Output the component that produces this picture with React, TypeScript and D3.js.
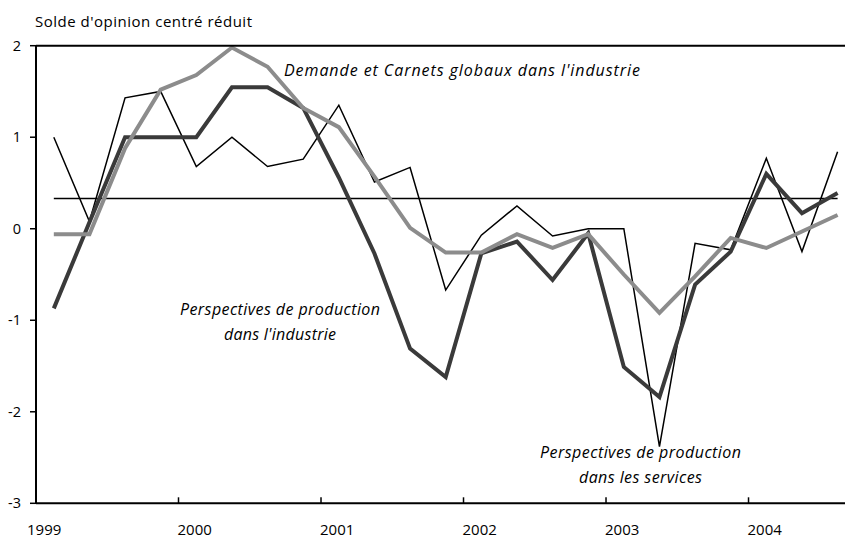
import React from "react";
import * as d3 from "d3";

const quarters = [
  "1999T1", "1999T2", "1999T3", "1999T4",
  "2000T1", "2000T2", "2000T3", "2000T4",
  "2001T1", "2001T2", "2001T3", "2001T4",
  "2002T1", "2002T2", "2002T3", "2002T4",
  "2003T1", "2003T2", "2003T3", "2003T4",
  "2004T1", "2004T2", "2004T3",
];

// Perspectives de production dans les services (thin black)
const services = [1.0, 0.08, 1.43, 1.5, 0.68, 1.0, 0.68, 0.76, 1.35, 0.51, 0.67, -0.67, -0.07, 0.25, -0.08, 0.0, 0.0, -2.38, -0.16, -0.23, 0.77, -0.25, 0.84];
// Perspectives de production dans l'industrie (dark thick)
const prodIndustrie = [-0.87, 0.07, 1.0, 1.0, 1.0, 1.545, 1.545, 1.32, 0.56, -0.27, -1.31, -1.62, -0.27, -0.14, -0.56, -0.05, -1.51, -1.84, -0.61, -0.25, 0.6, 0.17, 0.39];
// Demande et Carnets globaux dans l'industrie (grey thick)
const demande = [-0.06, -0.06, 0.88, 1.52, 1.68, 1.98, 1.77, 1.32, 1.11, 0.57, 0.01, -0.26, -0.26, -0.06, -0.21, -0.06, -0.5, -0.92, -0.52, -0.1, -0.21, -0.03, 0.15];
// Moyenne (horizontal reference line)
const meanValue = [0.33];

const yTicks = [2, 1, 0, -1, -2, -3];
const xTicks = [1999, 2000, 2001, 2002, 2003, 2004];

const FONT = "'Open Sans', sans-serif";

function qPos(q: string): number {
  const y = +q.slice(0, 4);
  const n = +q.slice(5);
  return y + (n - 0.5) / 4;
}

export default function App() {
  const W = 847, H = 538;
  const left = 36, right = 845, top = 45.7, bottom = 503.3;
  const x = d3.scaleLinear().domain([1999, 2004.677]).range([left, right]);
  const y = d3.scaleLinear().domain([-3, 2]).range([bottom, top]);

  const line = d3
    .line<number>()
    .x((_, i) => x(qPos(quarters[i])))
    .y((d) => y(d))
    .curve(d3.curveLinear);

  const meanLine = d3
    .line<number>()
    .x((d) => x(d))
    .y(() => y(meanValue[0]));
  const meanPath = meanLine([qPos(quarters[0]), qPos(quarters[quarters.length - 1])]);

  return (
    <svg width={W} height={H} style={{ display: "block", position: "absolute", left: 0, top: 0, background: "#fff" }}>
      <rect x={0} y={0} width={W} height={H} fill="#fff" />
      <text x={35} y={26.5} fontFamily={FONT} fontSize={15} fill="#000" textLength={217} lengthAdjust="spacing">
        Solde d'opinion centré réduit
      </text>

      {/* y tick labels */}
      {yTicks.map((t) => (
        <g key={"y" + t}>
          <line x1={left - 6} x2={left} y1={y(t)} y2={y(t)} stroke="#000" strokeWidth={1.5} />
          <text x={21} y={y(t)} dy="0.35em" textAnchor="end" fontFamily={FONT} fontSize={14.5} fill="#000">
            {t}
          </text>
        </g>
      ))}

      {/* x ticks */}
      {xTicks.map((t, i) => (
        <g key={"x" + t}>
          {i > 0 && <line x1={x(t)} x2={x(t)} y1={bottom} y2={bottom - 6} stroke="#000" strokeWidth={1.5} />}
          <text x={i === 0 ? 27 : x(t) - 1} y={535} textAnchor="start" fontFamily={FONT} fontSize={15} fill="#000">
            {t}
          </text>
        </g>
      ))}

      {/* series */}
      <path d={meanPath || ""} fill="none" stroke="#000" strokeWidth={1.5} />
      <path d={line(services) || ""} fill="none" stroke="#000" strokeWidth={1.5} strokeLinejoin="miter" />
      <path d={line(prodIndustrie) || ""} fill="none" stroke="#3a3a3a" strokeWidth={4} strokeLinejoin="miter" />
      <path d={line(demande) || ""} fill="none" stroke="#8c8c8c" strokeWidth={4} strokeLinejoin="miter" />

      {/* frame */}
      <line x1={left} x2={right} y1={top} y2={top} stroke="#000" strokeWidth={2} />
      <line x1={left} x2={right} y1={bottom} y2={bottom} stroke="#000" strokeWidth={2} />
      <line x1={left} x2={left} y1={top} y2={bottom} stroke="#000" strokeWidth={2} />

      {/* annotations */}
      <g fontFamily={FONT} fontStyle="italic" fontSize={16} fill="#000">
        <text x={284} y={76} textLength={356} lengthAdjust="spacing">Demande et Carnets globaux dans l'industrie</text>
        <text x={180} y={315} textLength={200} lengthAdjust="spacing">Perspectives de production</text>
        <text x={224} y={340} textLength={112} lengthAdjust="spacing">dans l'industrie</text>
        <text x={540} y={458} textLength={201} lengthAdjust="spacing">Perspectives de production</text>
        <text x={579} y={483} textLength={123} lengthAdjust="spacing">dans les services</text>
      </g>
    </svg>
  );
}
